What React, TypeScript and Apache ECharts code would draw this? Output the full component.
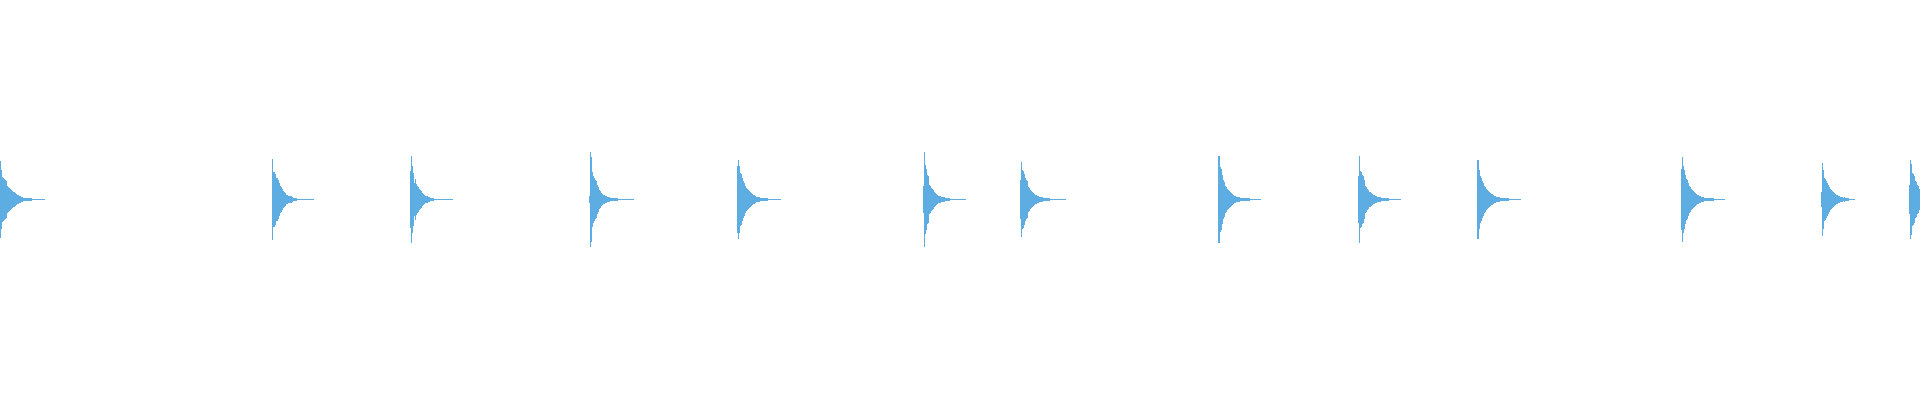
import React, { useRef, useEffect } from 'react';
import * as echarts from 'echarts';

const BAR_COLOR = '#5DADE2';
const COLUMNS = 1920;

// first pixel column of each burst
const burstStarts = [0, 272, 410, 589, 737, 923, 1020, 1218, 1358, 1477, 1681, 1821, 1909];

// amplitude per column (mirrored above and below the centre line)
const burst1 = [38.5, 29.5, 22.5, 21.5, 20.5, 19.5, 18.5, 13.5, 12.5, 11.5, 10.5, 9.5, 8.5, 7.5, 7.5, 6.5, 5.5, 4.5, 4.5, 3.5, 3.5, 2.5, 2.5,
  1.5, 1.5, 1.5, 1.5, 1.5, 1.5, 1.5, 1.5, 1.5,
  0.5, 0.5, 0.5, 0.5, 0.5, 0.5, 0.5, 0.5, 0.5, 0.5, 0.5, 0.5, 0.5];
const burst2 = [40.5, 27.5, 27.5, 25.5, 21.5, 21.5, 19.5, 16.5, 13.5, 12.5, 10.5, 8.5, 7.5, 6.5, 4.5, 4.5, 3.5, 3.5, 3.5, 3.5, 2.5,
  1.5, 1.5, 1.5, 1.5,
  0.5, 0.5, 0.5, 0.5, 0.5, 0.5, 0.5, 0.5, 0.5, 0.5, 0.5, 0.5, 0.5, 0.5, 0.5, 0.5, 0.5];
const burst3 = [28.5, 43.5, 33.5, 26.5, 16.5, 20.5, 15.5, 13.5, 12.5, 10.5, 9.5, 8.5, 6.5, 5.5, 4.5, 3.5, 3.5, 3.5, 2.5, 2.5,
  1.5, 1.5, 1.5, 1.5,
  0.5, 0.5, 0.5, 0.5, 0.5, 0.5, 0.5, 0.5, 0.5, 0.5, 0.5, 0.5, 0.5, 0.5, 0.5, 0.5, 0.5, 0.5, 0.5];
const burst4 = [3.5, 47.5, 42.5, 27.5, 23.5, 21.5, 19.5, 18.5, 14.5, 12.5, 9.5, 8.5, 6.5, 5.5, 4.5, 4.5, 3.5, 3.5, 2.5, 2.5, 2.5,
  1.5, 1.5, 1.5, 1.5, 1.5, 1.5, 1.5, 1.5,
  0.5, 0.5, 0.5, 0.5, 0.5, 0.5, 0.5, 0.5, 0.5, 0.5, 0.5, 0.5, 0.5, 0.5, 0.5, 0.5];
const burst5 = [33.5, 39.5, 33.5, 26.5, 25.5, 21.5, 18.5, 16.5, 13.5, 11.5, 10.5, 9.5, 8.5, 7.5, 6.5, 5.5, 4.5, 4.5, 3.5, 2.5, 2.5, 2.5, 2.5,
  1.5, 1.5, 1.5, 1.5, 1.5, 1.5, 1.5, 1.5,
  0.5, 0.5, 0.5, 0.5, 0.5, 0.5, 0.5, 0.5, 0.5, 0.5, 0.5, 0.5, 0.5];
const burst6 = [13.5, 47.5, 34.5, 30.5, 24.5, 23.5, 14.5, 13.5, 11.5, 10.5, 9.5, 7.5, 6.5, 5.5, 4.5, 3.5, 3.5, 3.5, 2.5, 2.5, 2.5, 2.5,
  1.5, 1.5, 1.5, 1.5, 1.5,
  0.5, 0.5, 0.5, 0.5, 0.5, 0.5, 0.5, 0.5, 0.5, 0.5, 0.5, 0.5, 0.5, 0.5, 0.5, 0.5];
const burst7 = [19.5, 37.5, 29.5, 28.5, 25.5, 21.5, 19.5, 18.5, 12.5, 11.5, 9.5, 8.5, 7.5, 6.5, 5.5, 4.5, 4.5, 3.5, 3.5, 2.5, 2.5, 2.5, 2.5,
  1.5, 1.5, 1.5, 1.5, 1.5, 1.5, 1.5,
  0.5, 0.5, 0.5, 0.5, 0.5, 0.5, 0.5, 0.5, 0.5, 0.5, 0.5, 0.5, 0.5, 0.5, 0.5, 0.5];
const burst8 = [43.5, 43.5, 32.5, 30.5, 24.5, 19.5, 17.5, 13.5, 12.5, 10.5, 9.5, 8.5, 7.5, 6.5, 5.5, 4.5, 3.5, 3.5, 2.5, 2.5, 2.5, 2.5,
  1.5, 1.5, 1.5, 1.5, 1.5, 1.5, 1.5, 1.5, 1.5, 1.5,
  0.5, 0.5, 0.5, 0.5, 0.5, 0.5, 0.5, 0.5, 0.5, 0.5, 0.5];
const burst9 = [23.5, 43.5, 28.5, 27.5, 24.5, 23.5, 19.5, 13.5, 12.5, 10.5, 9.5, 7.5, 7.5, 6.5, 5.5, 4.5, 4.5, 3.5, 3.5, 2.5, 2.5, 2.5, 2.5,
  1.5, 1.5, 1.5, 1.5, 1.5, 1.5, 1.5, 1.5,
  0.5, 0.5, 0.5, 0.5, 0.5, 0.5, 0.5, 0.5, 0.5, 0.5, 0.5, 0.5];
const burst10 = [39.5, 39.5, 29.5, 23.5, 21.5, 18.5, 16.5, 13.5, 12.5, 10.5, 9.5, 8.5, 7.5, 6.5, 5.5, 5.5, 4.5, 3.5, 3.5, 2.5, 2.5, 2.5, 2.5,
  1.5, 1.5, 1.5, 1.5, 1.5, 1.5, 1.5, 1.5, 1.5,
  0.5, 0.5, 0.5, 0.5, 0.5, 0.5, 0.5, 0.5, 0.5, 0.5, 0.5, 0.5];
const burst11 = [30.5, 42.5, 33.5, 29.5, 24.5, 20.5, 19.5, 16.5, 13.5, 12.5, 10.5, 9.5, 8.5, 7.5, 6.5, 5.5, 4.5, 4.5, 3.5, 3.5, 2.5, 2.5, 2.5,
  1.5, 1.5, 1.5, 1.5, 1.5, 1.5, 1.5, 1.5, 1.5, 1.5,
  0.5, 0.5, 0.5, 0.5, 0.5, 0.5, 0.5, 0.5, 0.5, 0.5, 0.5];
const burst12 = [7.5, 36.5, 29.5, 21.5, 20.5, 18.5, 16.5, 14.5, 12.5, 10.5, 9.5, 8.5, 7.5, 6.5, 5.5, 4.5, 4.5, 3.5, 3.5, 2.5, 2.5, 2.5,
  1.5, 2.5, 1.5, 1.5, 1.5, 1.5,
  0.5, 0.5, 0.5, 0.5, 0.5, 0.5];
const burst13 = [14.5, 39.5, 35.5, 26.5, 25.5, 23.5, 18.5, 17.5, 14.5, 13.5, 10.5];

const bursts = [burst1, burst2, burst3, burst4, burst5, burst6, burst7, burst8, burst9, burst10, burst11, burst12, burst13];

const App: React.FC = () => {
  const chartRef = useRef<HTMLDivElement>(null);

  useEffect(() => {
    if (!chartRef.current) return;
    const chart = echarts.init(chartRef.current, undefined, { renderer: 'svg' });

    // one category per pixel column; an invisible bar at -v carries a 2v bar,
    // so every column is a single rect from -v to +v (no seam on the centre line)
    const categories = Array.from({ length: COLUMNS }, (_, i) => String(i));
    const base: (number | string)[] = new Array(COLUMNS).fill('-');
    const band: (number | string)[] = new Array(COLUMNS).fill('-');
    bursts.forEach((amps, b) => {
      amps.forEach((v, i) => {
        const x = burstStarts[b] + i;
        if (x >= COLUMNS) return;
        base[x] = -v;
        band[x] = 2 * v;
      });
    });

    const common = {
      type: 'bar',
      stack: 'wave',
      stackStrategy: 'all',
      barWidth: '100%',
      barGap: '-100%',
      barCategoryGap: 0,
      silent: true,
    };

    chart.setOption({
      animation: false,
      backgroundColor: '#FFFFFF',
      grid: { left: 0, right: 0, top: 0, bottom: 0 },
      xAxis: {
        type: 'category',
        data: categories,
        boundaryGap: true,
        show: false,
      },
      yAxis: {
        type: 'value',
        min: -200.5,
        max: 199.5,
        show: false,
      },
      series: [
        { ...common, name: 'base', data: base, itemStyle: { color: 'rgba(0,0,0,0)' } },
        { ...common, name: 'band', data: band, itemStyle: { color: BAR_COLOR } },
      ],
    });

    return () => {
      chart.dispose();
    };
  }, []);

  return (
    <div
      ref={chartRef}
      style={{ position: 'fixed', left: 0, top: 0, width: 1920, height: 400 }}
    />
  );
};

export default App;
